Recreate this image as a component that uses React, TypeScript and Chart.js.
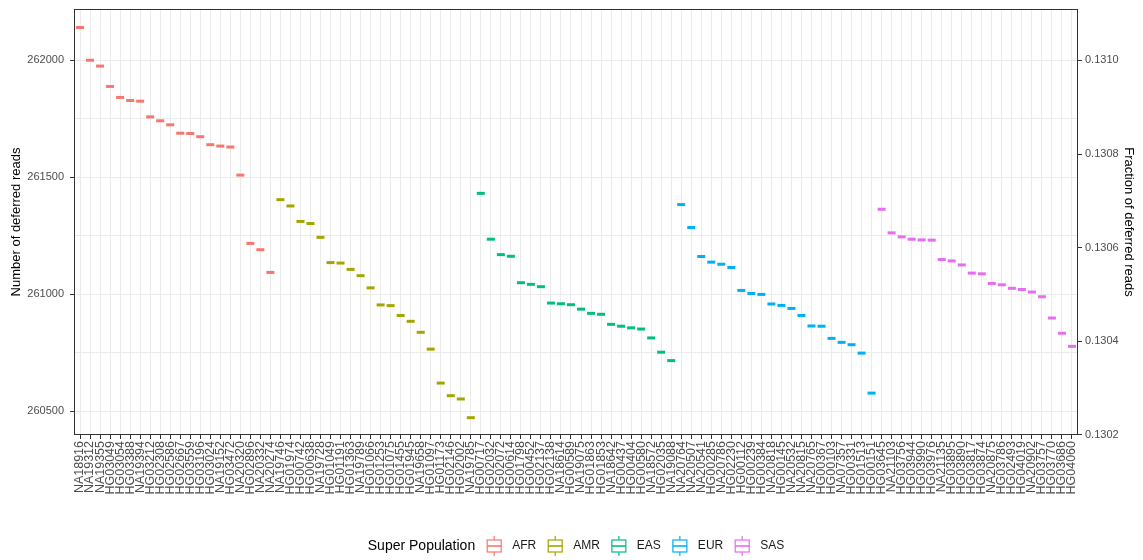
import React, { useEffect, useRef } from 'react';
import { Chart, registerables } from 'chart.js';

Chart.register(...registerables);

// ---------- data ----------
const afrSamples = ['NA18916', 'NA19312', 'NA19355', 'HG03049', 'HG03054', 'HG03388', 'NA19394', 'HG03212', 'HG02308', 'HG02586', 'HG02667', 'HG03559', 'HG03196', 'HG03024', 'NA19152', 'HG03472', 'NA20320', 'HG02896', 'NA20332', 'NA20274'];
const afrReads = [262141, 262001, 261976, 261889, 261842, 261829, 261826, 261759, 261742, 261725, 261689, 261688, 261674, 261640, 261634, 261630, 261510, 261218, 261191, 261094];

const amrSamples = ['NA19746', 'HG01974', 'HG00742', 'HG00638', 'NA19728', 'HG01049', 'HG01191', 'HG01363', 'NA19789', 'HG01066', 'HG01253', 'HG01075', 'HG01455', 'HG01945', 'NA19658', 'HG01097', 'HG01173', 'HG02146', 'HG02002', 'NA19785'];
const amrReads = [261405, 261378, 261312, 261303, 261244, 261136, 261134, 261107, 261080, 261028, 260955, 260952, 260910, 260885, 260838, 260766, 260621, 260567, 260553, 260473];

const easSamples = ['HG00717', 'HG02032', 'HG02072', 'HG00614', 'HG01798', 'HG00452', 'HG02137', 'HG02138', 'NA18614', 'HG00589', 'NA19075', 'HG01863', 'HG01853', 'NA18642', 'HG00437', 'HG00404', 'HG00580', 'NA18572', 'HG02035', 'NA19088'];
const easReads = [261432, 261236, 261170, 261163, 261050, 261043, 261033, 260963, 260960, 260956, 260937, 260919, 260915, 260872, 260864, 260857, 260852, 260814, 260753, 260717];

const eurSamples = ['NA20764', 'NA20507', 'NA20541', 'HG00285', 'NA20786', 'HG02230', 'HG00112', 'HG00239', 'HG00384', 'NA20818', 'HG00145', 'NA20532', 'NA20815', 'NA20765', 'HG00367', 'HG00103', 'NA07357', 'HG00331', 'HG01513', 'HG00151'];
const eurReads = [261384, 261286, 261162, 261138, 261129, 261115, 261017, 261004, 261000, 260959, 260953, 260940, 260910, 260865, 260864, 260812, 260795, 260785, 260749, 260578];

const sasSamples = ['HG03645', 'NA21103', 'HG03756', 'HG03944', 'HG03990', 'HG03976', 'NA21135', 'HG03895', 'HG03890', 'HG03817', 'HG03874', 'NA20875', 'HG03786', 'HG02493', 'HG04019', 'NA20902', 'HG03757', 'HG03770', 'HG03686', 'HG04060'];
const sasReads = [261364, 261263, 261246, 261236, 261233, 261232, 261149, 261143, 261126, 261091, 261088, 261047, 261041, 261026, 261021, 261010, 260990, 260899, 260834, 260778];

const superPops = ['AFR', 'AMR', 'EAS', 'EUR', 'SAS'];
const popColors = ['#F8766D', '#A3A500', '#00BF7D', '#00B0F6', '#E76BF3'];
const popSamples = [afrSamples, amrSamples, easSamples, eurSamples, sasSamples];
const popReads = [afrReads, amrReads, easReads, eurReads, sasReads];

const leftTicks = [260500, 260750, 261000, 261250, 261500, 261750, 262000];
const rightTicks = [0.1302, 0.1304, 0.1306, 0.1308, 0.131];
const totalReads = 2000000;
const yMin = 260399;
const yMax = 262220;

const legendTitle = 'Super Population';
const yTitle = 'Number of deferred reads';
const y2Title = 'Fraction of deferred reads';

const samples: string[] = popSamples.flat();

const FONT = '"Liberation Sans", Arial, Helvetica, sans-serif';

const panelBorder = {
  id: 'panelBorder',
  afterDatasetsDraw(chart: any) {
    const { ctx, chartArea: a } = chart;
    ctx.save();
    ctx.strokeStyle = '#333333';
    ctx.lineWidth = 1;
    ctx.strokeRect(a.left + 0.5, a.top + 0.5, a.right - a.left - 1, a.bottom - a.top - 1);
    ctx.restore();
  },
};

const ggLegend = {
  id: 'ggLegend',
  afterDraw(chart: any) {
    const { ctx, chartArea: a } = chart;
    const cy = 546;
    ctx.save();
    ctx.font = `14px ${FONT}`;
    const titleW = ctx.measureText(legendTitle).width;
    ctx.font = `12px ${FONT}`;
    const labelWs = superPops.map((p) => ctx.measureText(p).width);
    const keyW = 18;
    const gapTitle = 10;
    const gapKey = 9;
    const gapItem = 10;
    let total = titleW + gapTitle;
    labelWs.forEach((w, i) => {
      total += keyW + gapKey + w + (i < labelWs.length - 1 ? gapItem : 0);
    });
    let x = (a.left + a.right) / 2 - total / 2;
    ctx.textBaseline = 'middle';
    ctx.textAlign = 'left';
    ctx.fillStyle = '#000000';
    ctx.font = `14px ${FONT}`;
    ctx.fillText(legendTitle, x, cy);
    x += titleW + gapTitle;
    ctx.font = `12px ${FONT}`;
    superPops.forEach((p, i) => {
      const cx = x + keyW / 2;
      ctx.strokeStyle = popColors[i];
      ctx.lineWidth = 1.2;
      ctx.beginPath();
      ctx.moveTo(cx, cy - 10);
      ctx.lineTo(cx, cy - 6);
      ctx.moveTo(cx, cy + 6);
      ctx.lineTo(cx, cy + 10);
      ctx.stroke();
      ctx.fillStyle = '#ffffff';
      ctx.fillRect(cx - 7, cy - 6, 14, 12);
      ctx.strokeRect(cx - 7, cy - 6, 14, 12);
      ctx.beginPath();
      ctx.lineWidth = 1.6;
      ctx.moveTo(cx - 7, cy);
      ctx.lineTo(cx + 7, cy);
      ctx.stroke();
      x += keyW + gapKey;
      ctx.fillStyle = '#1a1a1a';
      ctx.fillText(p, x, cy);
      x += labelWs[i] + gapItem;
    });
    ctx.restore();
  },
};

const noPad = (s: any) => {
  s.paddingTop = 0;
  s.paddingBottom = 0;
  s.paddingLeft = 0;
  s.paddingRight = 0;
};

export default function App() {
  const canvasRef = useRef<HTMLCanvasElement | null>(null);

  useEffect(() => {
    if (!canvasRef.current) return;
    let offset = 0;
    const datasets = superPops.map((pop, k) => {
      const start = offset;
      offset += popReads[k].length;
      return {
        label: pop,
        data: popReads[k].map((v, i) => ({ x: start + i, y: v })),
        borderColor: popColors[k],
        backgroundColor: popColors[k],
        pointStyle: 'line',
        pointRadius: 4,
        pointHoverRadius: 4,
        borderWidth: 3,
        showLine: false,
        yAxisID: 'y',
      };
    });

    const chart = new Chart(canvasRef.current, {
      type: 'scatter',
      data: { datasets },
      options: {
        animation: false,
        responsive: false,
        maintainAspectRatio: false,
        layout: { padding: { top: 9, left: 0, right: 0, bottom: 0 } },
        plugins: { legend: { display: false }, tooltip: { enabled: false } },
        scales: {
          x: {
            type: 'linear',
            min: -0.6,
            max: samples.length - 1 + 0.6,
            afterBuildTicks: (s: any) => {
              s.ticks = samples.map((_, i) => ({ value: i }));
            },
            afterFit: (s: any) => {
              s.height = 125;
              noPad(s);
            },
            ticks: {
              autoSkip: false,
              minRotation: 90,
              maxRotation: 90,
              padding: 2,
              color: '#4d4d4d',
              font: { family: FONT, size: 12.5 },
              callback: (v: any) => samples[Math.round(Number(v))] ?? '',
            },
            grid: { color: '#ebebeb', lineWidth: 1, tickColor: '#333333', tickLength: 4 },
            border: { display: false },
          },
          y: {
            type: 'linear',
            position: 'left',
            min: yMin,
            max: yMax,
            afterBuildTicks: (s: any) => {
              s.ticks = leftTicks.map((v) => ({ value: v }));
            },
            afterFit: (s: any) => {
              s.width = 74;
              noPad(s);
            },
            ticks: {
              padding: 6,
              color: '#4d4d4d',
              font: { family: FONT, size: 11 },
              callback: (v: any) => (Number(v) % 500 === 0 ? String(v) : ''),
            },
            grid: {
              color: '#ebebeb',
              lineWidth: 1,
              tickLength: 4,
              tickColor: (c: any) => (c.tick && c.tick.value % 500 === 0 ? '#333333' : 'rgba(0,0,0,0)'),
            },
            border: { display: false },
            title: {
              display: true,
              text: yTitle,
              color: '#000000',
              font: { family: FONT, size: 13 },
              padding: { top: 9, bottom: 0 },
            },
          },
          y2: {
            type: 'linear',
            position: 'right',
            min: yMin / totalReads,
            max: yMax / totalReads,
            afterBuildTicks: (s: any) => {
              s.ticks = rightTicks.map((v) => ({ value: v }));
            },
            afterFit: (s: any) => {
              s.width = 65;
              noPad(s);
            },
            ticks: {
              padding: 3,
              color: '#4d4d4d',
              font: { family: FONT, size: 11 },
              callback: (v: any) => Number(v).toFixed(4),
            },
            grid: { drawOnChartArea: false, tickLength: 4, tickColor: '#333333' },
            border: { display: false },
            title: {
              display: true,
              text: y2Title,
              color: '#000000',
              font: { family: FONT, size: 13 },
              padding: { top: 7, bottom: 0 },
            },
          },
        },
      },
      plugins: [panelBorder, ggLegend],
    } as any);

    return () => chart.destroy();
  }, []);

  return (
    <div style={{ position: 'absolute', left: 0, top: 0, width: 1143, height: 560, background: '#ffffff' }}>
      <canvas ref={canvasRef} width={1143} height={560} style={{ display: 'block' }} />
    </div>
  );
}
